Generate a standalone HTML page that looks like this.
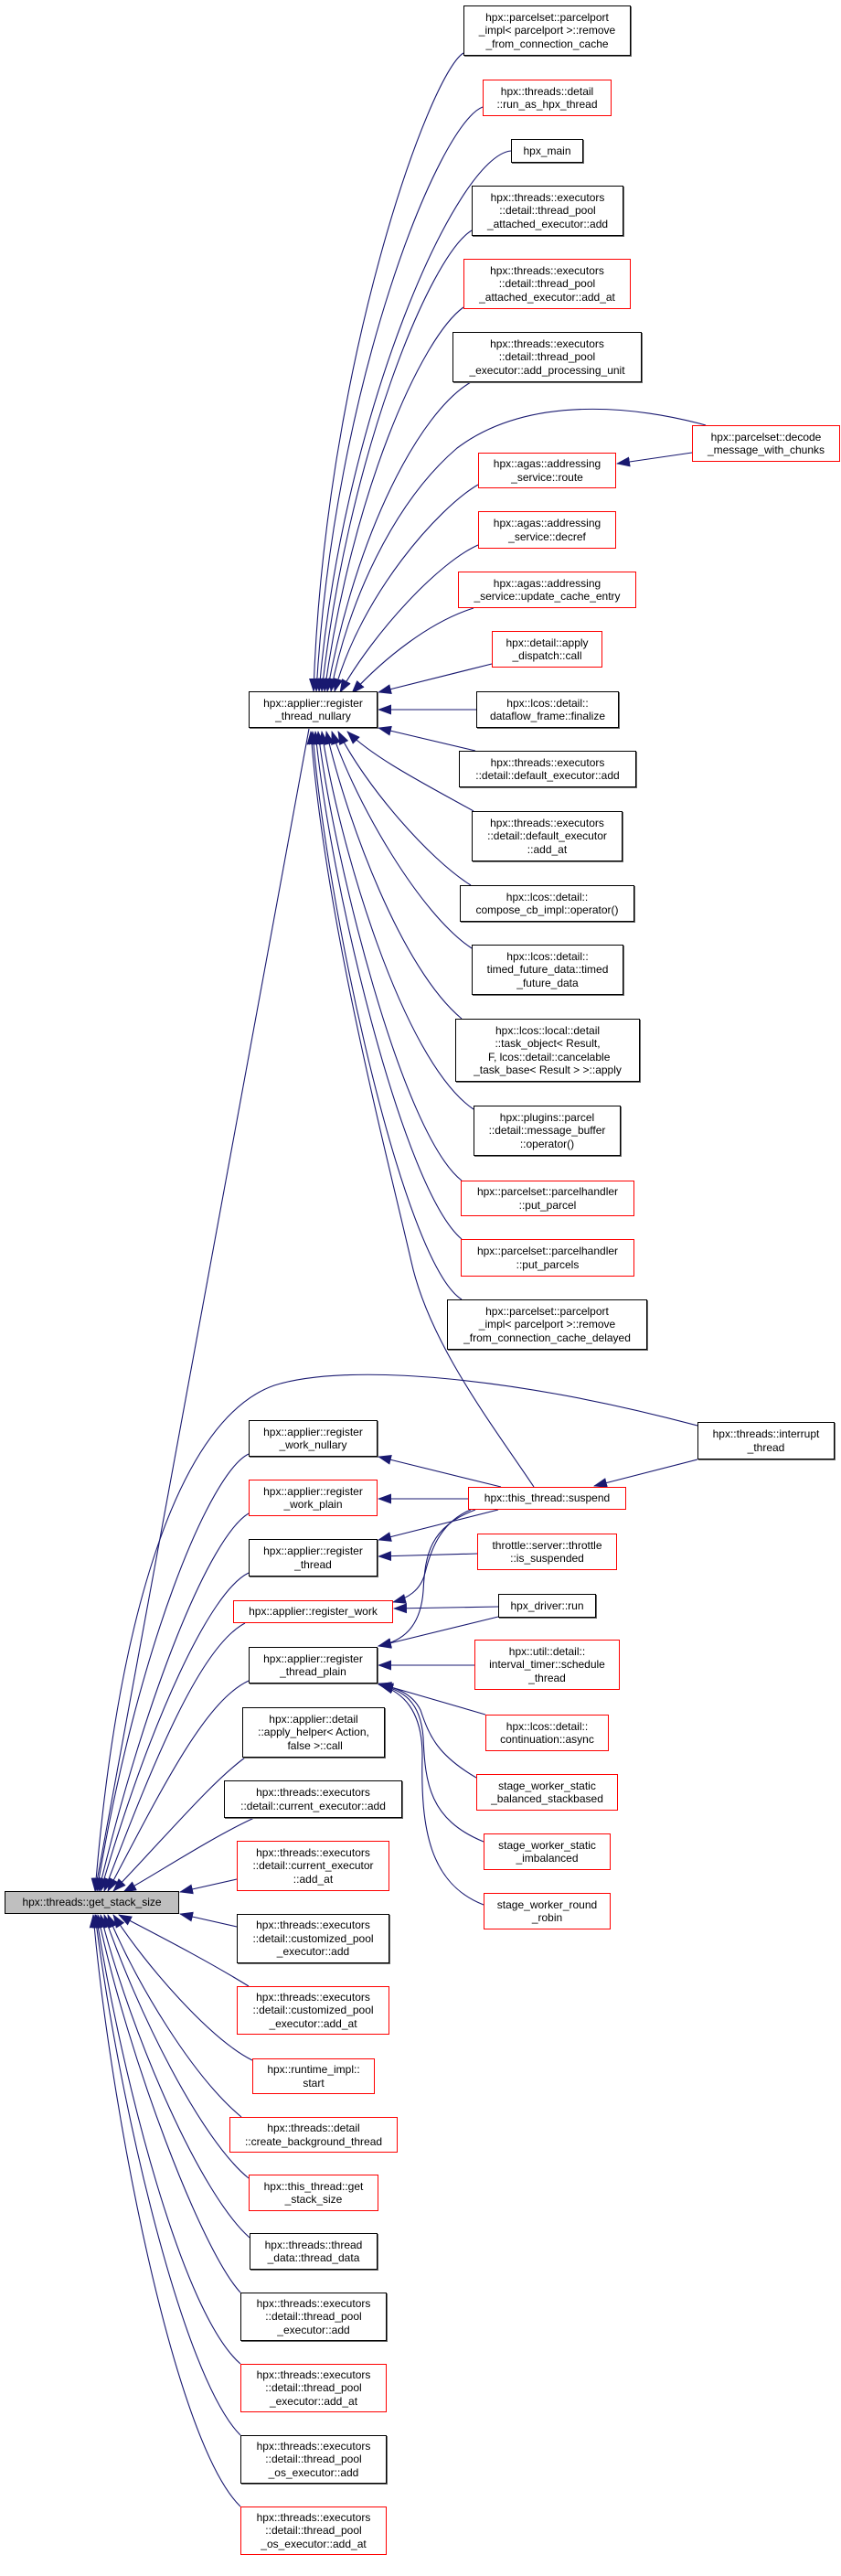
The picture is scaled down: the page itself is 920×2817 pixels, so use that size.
<!DOCTYPE html>
<html><head><meta charset="utf-8"><style>
html,body{margin:0;padding:0;background:#fff;}
body{width:920px;height:2817px;position:relative;overflow:hidden;font-family:"Liberation Sans",Arial,sans-serif;}
.n{position:absolute;box-sizing:border-box;border:1px solid #000;background:#fff;font-size:12px;line-height:14.5px;color:#000;display:flex;align-items:center;justify-content:center;text-align:center;white-space:nowrap;}
.b{border-color:#000;box-shadow:1px 1px 0 #666;}
.r{border-color:#ff0000;}
.g{background:#bfbfbf;border-color:#000;}
svg{position:absolute;left:0;top:0;}
</style></head><body>
<svg width="920" height="2817" viewBox="0 0 920 2817">
<defs><marker id="a" markerWidth="15" markerHeight="11" refX="14" refY="5.5" orient="auto" markerUnits="userSpaceOnUse"><path d="M0,0 L15,5.5 L0,11z" fill="#191970"/></marker></defs>
<g fill="none" stroke="#191970" stroke-width="1.1" marker-end="url(#a)">
<path d="M507,58 C470,80 355,400 343,756"/>
<path d="M528,117 C480,135 365,420 346,756"/>
<path d="M559,165 C500,170 375,450 349,756"/>
<path d="M516,252 C470,280 380,500 352,756"/>
<path d="M507,336 C460,370 385,540 355,756"/>
<path d="M515,418 C460,450 390,580 358,756"/>
<path d="M772,465 C700,445 580,430 500,490 C430,550 380,660 362,756"/>
<path d="M523,530 C480,555 395,650 366,756"/>
<path d="M523,596 C480,615 410,690 372,757"/>
<path d="M518,665 C470,680 420,720 385,758"/>
<path d="M538,726 L414,757"/>
<path d="M757,495 L675,507"/>
<path d="M521,776 L414,776"/>
<path d="M520,821 L414,796"/>
<path d="M518,887 C470,860 410,830 380,800"/>
<path d="M515,968 C470,940 400,860 370,800"/>
<path d="M516,1037 C460,1000 390,880 363,800"/>
<path d="M505,1114 C440,1060 380,900 357,800"/>
<path d="M518,1213 C440,1160 370,920 352,800"/>
<path d="M505,1291 C440,1240 365,940 348,800"/>
<path d="M505,1355 C440,1300 360,960 345,800"/>
<path d="M505,1421 C440,1380 355,980 342,800"/>
<path d="M584,1626 C540,1560 470,1470 450,1380 C420,1250 355,1000 340,800"/>
<path d="M338,797 L104,2068"/>
<path d="M763,1559 C560,1505 380,1490 300,1515 C200,1550 130,1750 104,2068"/>
<path d="M763,1596 L650,1625"/>
<path d="M548,1626 L414,1593"/>
<path d="M512,1639 L414,1639"/>
<path d="M545,1651 L414,1684"/>
<path d="M515,1651 C480,1665 470,1700 465,1720 C460,1740 445,1748 430,1752"/>
<path d="M520,1651 C470,1670 465,1700 463,1740 C460,1780 440,1795 414,1800"/>
<path d="M522,1699 L414,1702"/>
<path d="M545,1757 L431,1759"/>
<path d="M545,1768 L414,1800"/>
<path d="M519,1821 L414,1821"/>
<path d="M531,1875 L414,1841"/>
<path d="M521,1944 C480,1920 470,1900 460,1870 C450,1850 430,1845 414,1842"/>
<path d="M529,2014 C470,1990 465,1950 463,1900 C460,1860 440,1848 416,1843"/>
<path d="M529,2083 C470,2060 460,2000 462,1920 C462,1870 440,1850 416,1843"/>
<path d="M272,1590 C230,1610 150,1800 106,2068"/>
<path d="M272,1655 C230,1680 160,1850 108,2068"/>
<path d="M272,1720 C230,1740 165,1880 110,2068"/>
<path d="M268,1775 C220,1800 170,1920 114,2068"/>
<path d="M272,1838 C225,1860 180,1950 118,2068"/>
<path d="M268,1922 C230,1950 180,2010 124,2068"/>
<path d="M278,1988 C230,2010 170,2050 135,2069"/>
<path d="M259,2055 L197,2069"/>
<path d="M259,2107 L197,2093"/>
<path d="M272,2172 C220,2140 160,2110 130,2094"/>
<path d="M276,2253 C230,2230 160,2150 124,2094"/>
<path d="M264,2315 C210,2270 150,2170 118,2094"/>
<path d="M272,2382 C220,2340 150,2200 114,2094"/>
<path d="M273,2447 C220,2400 145,2230 110,2094"/>
<path d="M263,2507 C220,2460 140,2250 107,2094"/>
<path d="M263,2585 C200,2530 135,2280 105,2094"/>
<path d="M263,2663 C200,2600 130,2300 104,2094"/>
<path d="M263,2741 C190,2670 120,2300 102,2094"/>
</g>
</svg>

<div class="n b" style="left:507px;top:6px;width:183px;height:55px">hpx::parcelset::parcelport<br>_impl&lt; parcelport &gt;::remove<br>_from_connection_cache</div>
<div class="n r" style="left:528px;top:87px;width:141px;height:40px">hpx::threads::detail<br>::run_as_hpx_thread</div>
<div class="n b" style="left:559px;top:152px;width:79px;height:26px">hpx_main</div>
<div class="n b" style="left:516px;top:203px;width:166px;height:55px">hpx::threads::executors<br>::detail::thread_pool<br>_attached_executor::add</div>
<div class="n r" style="left:507px;top:283px;width:183px;height:55px">hpx::threads::executors<br>::detail::thread_pool<br>_attached_executor::add_at</div>
<div class="n b" style="left:495px;top:363px;width:207px;height:55px">hpx::threads::executors<br>::detail::thread_pool<br>_executor::add_processing_unit</div>
<div class="n r" style="left:757px;top:465px;width:162px;height:40px">hpx::parcelset::decode<br>_message_with_chunks</div>
<div class="n r" style="left:523px;top:495px;width:151px;height:39px">hpx::agas::addressing<br>_service::route</div>
<div class="n r" style="left:523px;top:559px;width:151px;height:41px">hpx::agas::addressing<br>_service::decref</div>
<div class="n r" style="left:501px;top:625px;width:195px;height:40px">hpx::agas::addressing<br>_service::update_cache_entry</div>
<div class="n r" style="left:538px;top:690px;width:121px;height:40px">hpx::detail::apply<br>_dispatch::call</div>
<div class="n b" style="left:272px;top:756px;width:141px;height:40px">hpx::applier::register<br>_thread_nullary</div>
<div class="n b" style="left:521px;top:756px;width:156px;height:40px">hpx::lcos::detail::<br>dataflow_frame::finalize</div>
<div class="n b" style="left:502px;top:821px;width:194px;height:40px">hpx::threads::executors<br>::detail::default_executor::add</div>
<div class="n b" style="left:516px;top:887px;width:165px;height:55px">hpx::threads::executors<br>::detail::default_executor<br>::add_at</div>
<div class="n b" style="left:503px;top:968px;width:191px;height:40px">hpx::lcos::detail::<br>compose_cb_impl::operator()</div>
<div class="n b" style="left:516px;top:1033px;width:166px;height:55px">hpx::lcos::detail::<br>timed_future_data::timed<br>_future_data</div>
<div class="n b" style="left:498px;top:1114px;width:202px;height:69px">hpx::lcos::local::detail<br>::task_object&lt; Result,<br>&nbsp;F, lcos::detail::cancelable<br>_task_base&lt; Result &gt; &gt;::apply</div>
<div class="n b" style="left:518px;top:1209px;width:161px;height:55px">hpx::plugins::parcel<br>::detail::message_buffer<br>::operator()</div>
<div class="n r" style="left:504px;top:1291px;width:190px;height:39px">hpx::parcelset::parcelhandler<br>::put_parcel</div>
<div class="n r" style="left:504px;top:1355px;width:190px;height:41px">hpx::parcelset::parcelhandler<br>::put_parcels</div>
<div class="n b" style="left:489px;top:1421px;width:219px;height:55px">hpx::parcelset::parcelport<br>_impl&lt; parcelport &gt;::remove<br>_from_connection_cache_delayed</div>
<div class="n b" style="left:763px;top:1555px;width:150px;height:41px">hpx::threads::interrupt<br>_thread</div>
<div class="n b" style="left:272px;top:1553px;width:141px;height:40px">hpx::applier::register<br>_work_nullary</div>
<div class="n r" style="left:512px;top:1626px;width:173px;height:25px">hpx::this_thread::suspend</div>
<div class="n r" style="left:272px;top:1618px;width:141px;height:40px">hpx::applier::register<br>_work_plain</div>
<div class="n b" style="left:272px;top:1683px;width:141px;height:41px">hpx::applier::register<br>_thread</div>
<div class="n r" style="left:522px;top:1677px;width:153px;height:40px">throttle::server::throttle<br>::is_suspended</div>
<div class="n r" style="left:255px;top:1750px;width:175px;height:25px">hpx::applier::register_work</div>
<div class="n b" style="left:545px;top:1743px;width:107px;height:26px">hpx_driver::run</div>
<div class="n b" style="left:272px;top:1801px;width:141px;height:40px">hpx::applier::register<br>_thread_plain</div>
<div class="n r" style="left:519px;top:1793px;width:159px;height:55px">hpx::util::detail::<br>interval_timer::schedule<br>_thread</div>
<div class="n b" style="left:265px;top:1867px;width:156px;height:55px">hpx::applier::detail<br>::apply_helper&lt; Action,<br>&nbsp;false &gt;::call</div>
<div class="n r" style="left:531px;top:1875px;width:135px;height:40px">hpx::lcos::detail::<br>continuation::async</div>
<div class="n b" style="left:245px;top:1947px;width:195px;height:41px">hpx::threads::executors<br>::detail::current_executor::add</div>
<div class="n r" style="left:521px;top:1940px;width:155px;height:40px">stage_worker_static<br>_balanced_stackbased</div>
<div class="n r" style="left:259px;top:2013px;width:167px;height:55px">hpx::threads::executors<br>::detail::current_executor<br>::add_at</div>
<div class="n r" style="left:529px;top:2005px;width:139px;height:40px">stage_worker_static<br>_imbalanced</div>
<div class="n g" style="left:5px;top:2068px;width:191px;height:25px">hpx::threads::get_stack_size</div>
<div class="n r" style="left:529px;top:2070px;width:139px;height:40px">stage_worker_round<br>_robin</div>
<div class="n b" style="left:259px;top:2093px;width:167px;height:54px">hpx::threads::executors<br>::detail::customized_pool<br>_executor::add</div>
<div class="n r" style="left:259px;top:2172px;width:167px;height:53px">hpx::threads::executors<br>::detail::customized_pool<br>_executor::add_at</div>
<div class="n r" style="left:276px;top:2251px;width:134px;height:39px">hpx::runtime_impl::<br>start</div>
<div class="n r" style="left:251px;top:2315px;width:184px;height:39px">hpx::threads::detail<br>::create_background_thread</div>
<div class="n r" style="left:272px;top:2378px;width:142px;height:40px">hpx::this_thread::get<br>_stack_size</div>
<div class="n b" style="left:273px;top:2442px;width:140px;height:40px">hpx::threads::thread<br>_data::thread_data</div>
<div class="n b" style="left:263px;top:2507px;width:160px;height:53px">hpx::threads::executors<br>::detail::thread_pool<br>_executor::add</div>
<div class="n r" style="left:263px;top:2585px;width:160px;height:53px">hpx::threads::executors<br>::detail::thread_pool<br>_executor::add_at</div>
<div class="n b" style="left:263px;top:2663px;width:160px;height:53px">hpx::threads::executors<br>::detail::thread_pool<br>_os_executor::add</div>
<div class="n r" style="left:263px;top:2741px;width:160px;height:53px">hpx::threads::executors<br>::detail::thread_pool<br>_os_executor::add_at</div>
</body></html>
